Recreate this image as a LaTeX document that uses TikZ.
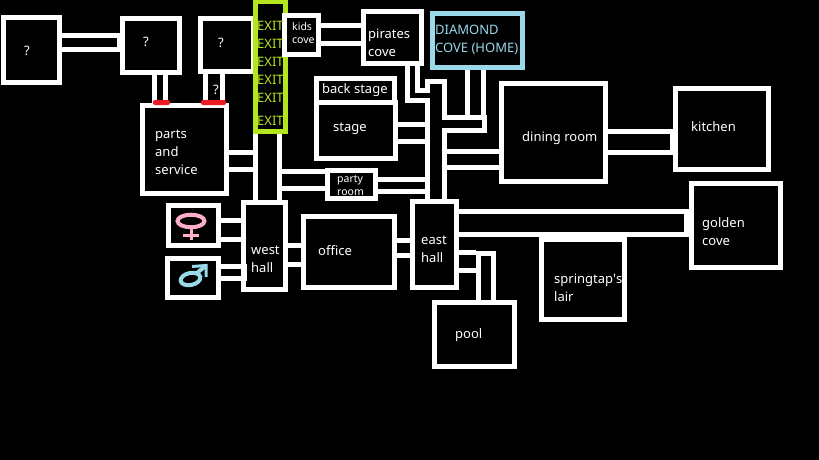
\documentclass[tikz,border=0pt]{standalone}
\usepackage{fontspec}
\setmainfont{Noto Sans}
\usetikzlibrary{positioning,shapes.geometric}

\definecolor{limewall}{HTML}{B5E61D}
\definecolor{skywall}{HTML}{99D9EA}
\definecolor{pinkmark}{HTML}{FFAEC9}
\definecolor{doorred}{HTML}{ED1C24}

\begin{document}
\begin{tikzpicture}[
    x=1pt, y=-1pt,
    room/.style 2 args={draw=white, fill=black, line width=5pt, inner sep=0pt, minimum width=#1, minimum height=#2},
    corridor/.style={draw=white, line width=5pt, double=black, double distance=#1},
    capwall/.style 2 args={fill=white, inner sep=0pt, minimum width=#1, minimum height=#2},
    door/.style={fill=doorred, rounded corners=2pt, inner sep=0pt, minimum height=5pt, minimum width=#1},
    roomtext/.style={text=white, anchor=west, align=left, inner sep=0pt, yshift=-1.2pt, font=\fontsize{13}{18}\selectfont},
    smalltext/.style={roomtext, font=\fontsize{10.5}{13}\selectfont},
    exittext/.style={roomtext, text=limewall},
    signmark/.style={line width=4pt, inner sep=0pt, outer sep=0pt, shape=ellipse}
    ]
    \useasboundingbox (0,0) rectangle (819,460);
    \fill[black] (0,0) rectangle (819,460);

    %% Rooms along the top left
    \node[room={56pt}{65pt}](q1) at (31.5,50){};
    \node[room={57pt}{54pt}](q2) at (151,45.5){};
    \node[room={53pt}{53pt}](q3) at (227,45){};
    \node[room={84pt}{88pt}](parts) at (184.5,149.5){};

    %% Exit, with kids cove laid over its wall
    \node[room={30pt}{130pt}, draw=limewall](exit) at (270.5,66.5){};
    \node[room={34pt}{39pt}](kids) at (301.5,35){};
    \node[room={58pt}{52pt}](pirates) at (392.5,37.5){};
    \node[room={90pt}{54pt}, draw=skywall](diamond) at (477.5,40.5){};

    %% Stage and the long hallway
    \node[room={78pt}{23.5pt}](backstage) at (355.5,90.25){};
    \node[room={79pt}{56.5pt}](stage) at (356,130.25){};
    \node[room={17pt}{120pt}](hallway) at (436,141){};
    \node[room={48pt}{28pt}](party) at (351.5,184.5){};

    %% Right side
    \node[room={104pt}{98pt}](dining) at (553.5,132.5){};
    \node[room={93pt}{81pt}](kitchen) at (722,129){};
    \node[room={89pt}{84pt}](golden) at (736,225.5){};
    \node[room={83pt}{80.5pt}](springtap) at (583,279.25){};
    \node[room={80pt}{64pt}](pool) at (474.5,334.5){};

    %% Lower row
    \node[room={44pt}{86pt}](easthall) at (434.5,244.5){};
    \node[room={91pt}{71pt}](office) at (349,252){};
    \node[room={42pt}{87pt}](westhall) at (264.5,246){};
    \node[room={50pt}{40pt}](ladies) at (193.5,225.5){};
    \node[room={51pt}{39pt}](gents) at (193,278){};

    %% Corridors, top left
    \draw[corridor=9pt] (q1.east |- 0,42.5) -- (q2.west |- 0,42.5);
    \draw[corridor=6pt] (q2.south -| 160,0) -- (parts.north -| 160,0);
    \draw[corridor=12pt] (q3.south -| 214,0) -- (parts.north -| 214,0);
    \draw[corridor=12pt] (parts.east |- 0,161) -- (exit.west |- 0,161);
    \draw[corridor=19pt] (exit.south -| 267.5,0) -- (westhall.north -| 267.5,0);
    \node[door=17pt](door1) at (161.5,102.5){};
    \node[door=25pt](door2) at (213.5,102.5){};
    \node[capwall={3pt}{9pt}](q2cap) at (118.5,42.5){};

    %% Corridors, top
    \draw[corridor=13pt] (kids.east |- 0,34.5) -- (pirates.west |- 0,34.5);
    \draw[corridor=4.5pt] (pirates.south -| 412.5,0) |- (430,95.5);
    \draw[corridor=11pt] (diamond.south -| 475.5,0) -- (475.5,115);
    \draw[corridor=8pt] (442,124) -- (487,124);
    \node[capwall={5pt}{18pt}](stubcap) at (484.5,124){};
    \draw[corridor=12pt] (stage.east |- 0,133) -- (hallway.west |- 0,133);
    \coordinate (columnedge) at (282,180);
    \draw[corridor=12pt] (columnedge) -- (party.west |- columnedge);
    \draw[corridor=7pt] (party.east |- 0,185.5) -- (hallway.west |- 0,185.5);
    \draw[corridor=11pt] (hallway.east |- 0,159.5) -- (dining.west |- 0,159.5);

    %% Corridors, right
    \draw[corridor=16pt] (dining.east |- 0,142) -- (kitchen.west |- 0,142);
    \node[capwall={3pt}{16pt}](kitchencap) at (671.5,142){};
    \draw[corridor=18pt] (easthall.east |- 0,223) -- (golden.west |- 0,223);
    \node[capwall={5pt}{18pt}](goldencap) at (686.5,223){};

    %% Corridors, lower row and pool
    \draw[corridor=10pt] (office.east |- 0,248) -- (easthall.west |- 0,248);
    \draw[corridor=14pt] (westhall.east |- 0,255) -- (office.west |- 0,255);
    \draw[corridor=14pt] (ladies.east |- 0,230) -- (westhall.west |- 0,230);
    \draw[corridor=7pt] (gents.east |- 0,272.5) -- (westhall.west |- 0,272.5);
    \node[capwall={6pt}{17pt}](gentscap) at (244,272.5){};
    \draw[corridor=13pt] (easthall.east |- 0,261.5) -- (476,261.5);
    \draw[corridor=10pt] (pool.north -| 486,0) -- (486,251);
    \node[capwall={20pt}{5pt}](poolcap) at (486,253.5){};

    %% Labels
    \foreach \ypos in {25,43,61,79,97,120}{
        \node[exittext](exit\ypos) at (257,\ypos){EXIT};
    }
    \node[roomtext](q1text) at (24,50){?};
    \node[roomtext](q2text) at (143,41){?};
    \node[roomtext](q3text) at (218,42){?};
    \node[roomtext](doortext) at (213,89){?};
    \node[roomtext](partstext) at (155,151){parts\\and\\service};
    \node[smalltext](kidstext) at (292,32){kids\\cove};
    \node[roomtext](piratestext) at (368,41.5){pirates\\cove};
    \node[roomtext, text=skywall](diamondtext) at (435,38.5){DIAMOND\\COVE (HOME)};
    \node[roomtext](backstagetext) at (322,89){back stage};
    \node[roomtext](stagetext) at (333,128){stage};
    \node[smalltext](partytext) at (337,184){party\\room};
    \node[roomtext](diningtext) at (522,137){dining room};
    \node[roomtext](kitchentext) at (691,125){kitchen};
    \node[roomtext](goldentext) at (702,230){golden\\cove};
    \node[roomtext](easttext) at (421,248){east\\hall};
    \node[roomtext](officetext) at (318,249){office};
    \node[roomtext](westtext) at (251,258.5){west\\hall};
    \node[roomtext](springtaptext) at (554,287){springtap\textquotesingle s\\lair};
    \node[roomtext](pooltext) at (455,333.5){pool};

    %% Washroom signs
    \node[signmark, draw=pinkmark, minimum width=27pt, minimum height=12.5pt](venus) at (191,221){};
    \coordinate (venusend) at (191,239.5);
    \draw[pinkmark, line width=3pt] (venus.south) -- (venusend);
    \coordinate (venusleft) at (182.5,235);
    \coordinate (venusright) at (199,235);
    \draw[pinkmark, line width=3pt] (venusleft) -- (venusright);

    \node[signmark, draw=skywall, minimum width=20pt, minimum height=12pt, rotate=12](mars) at (190.5,279){};
    \coordinate (marstip) at (206,265.5);
    \coordinate (marsbarbl) at (192,266.5);
    \coordinate (marsbarbr) at (206,277);
    \draw[skywall, line width=4pt] (mars.north east) -- (marstip);
    \draw[skywall, line width=3pt, line join=miter] (marsbarbl) -- (marstip) -- (marsbarbr);
\end{tikzpicture}
\end{document}
